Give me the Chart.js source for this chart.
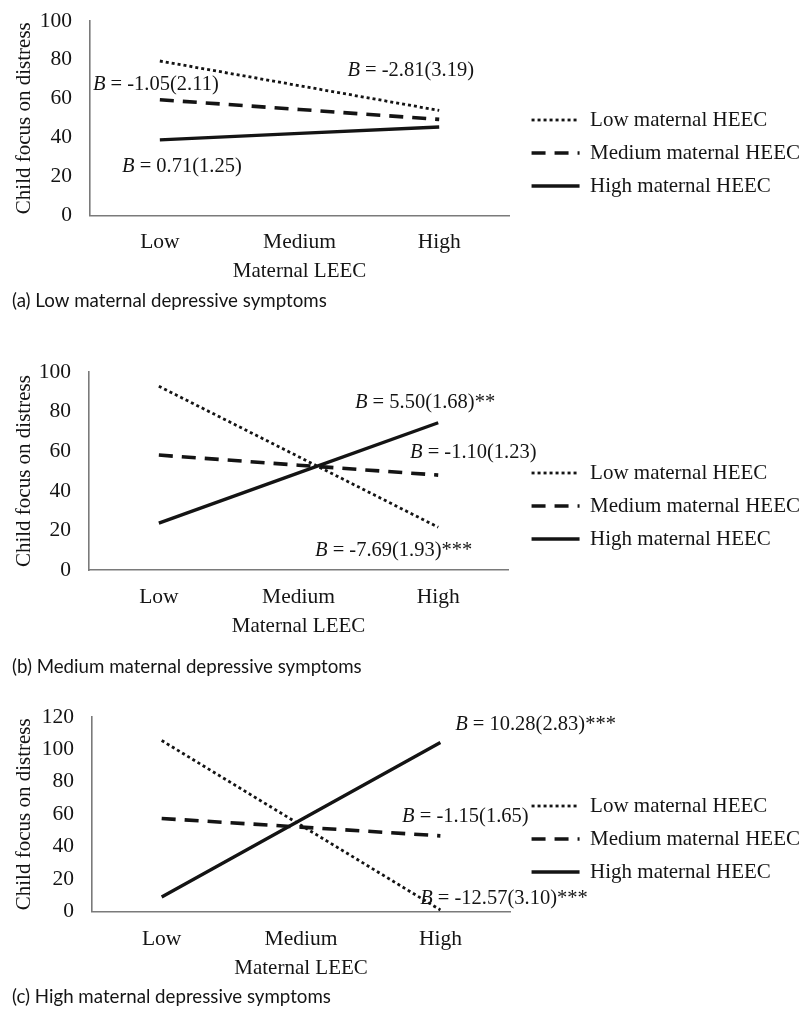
<!DOCTYPE html>
<html><head><meta charset="utf-8">
<script src="https://cdn.jsdelivr.net/npm/chart.js@4.4.1/dist/chart.umd.min.js"></script>
<style>
html,body{margin:0;padding:0;background:#fff;}
body{width:810px;height:1010px;position:relative;overflow:hidden;}
canvas{position:absolute;left:0;}
</style></head><body>
<canvas id="ca" width="810" height="324" style="top:-10px"></canvas>
<canvas id="cb" width="810" height="350" style="top:330px"></canvas>
<canvas id="cc" width="810" height="330" style="top:680px"></canvas>
<script>
// ---- data ----
const categories = ['Low', 'Medium', 'High'];
const seriesNames = ['Low maternal HEEC', 'Medium maternal HEEC', 'High maternal HEEC'];
const xTitle = 'Maternal LEEC';
const yTitle = 'Child focus on distress';
const captions = [
  '(a) Low maternal depressive symptoms',
  '(b) Medium maternal depressive symptoms',
  '(c) High maternal depressive symptoms'
];
// panel (a) low maternal depressive symptoms
const lowHEEC_a  = [79.4, 66.7, 54.0];
const medHEEC_a  = [59.5, 54.5, 49.4];
const highHEEC_a = [38.9, 42.2, 45.5];
// panel (b) medium maternal depressive symptoms
const lowHEEC_b  = [92.8, 57.3, 21.7];
const medHEEC_b  = [58.1, 53.0, 48.0];
const highHEEC_b = [23.8, 49.1, 74.4];
// panel (c) high maternal depressive symptoms
const lowHEEC_c  = [105.5, 53.2, 1.0];
const medHEEC_c  = [57.4, 52.1, 46.7];
const highHEEC_c = [9.0, 56.6, 104.3];
// y axis ranges
const yMax = [100, 100, 120];
const yStep = 20;
// simple slope labels (text after the italic B)
const slopes_a = ['= -1.05(2.11)', '= -2.81(3.19)', '= 0.71(1.25)'];
const slopes_b = ['= 5.50(1.68)**', '= -1.10(1.23)', '= -7.69(1.93)***'];
const slopes_c = ['= 10.28(2.83)***', '= -1.15(1.65)', '= -12.57(3.10)***'];

// ---- styling / layout ----
const SERIF = '"Liberation Serif", "Times New Roman", serif';
const INK = '#141414';
const AXIS = '#7a7a7a';

const slopeLabelPlugin = {
  id: 'slopeLabels',
  afterDatasetsDraw(chart, args, opts) {
    const {ctx} = chart;
    const xs = chart.scales.x, ys = chart.scales.y;
    ctx.save();
    ctx.textBaseline = 'middle';
    ctx.textAlign = 'left';
    ctx.fillStyle = INK;
    opts.texts.forEach((t, i) => {
      const [cx, cy] = opts.anchors[i];
      const px = xs.getPixelForValue(cx);
      const py = ys.getPixelForValue(cy);
      ctx.font = 'italic 20.5px ' + SERIF;
      ctx.fillText('B', px, py);
      const w = ctx.measureText('B').width;
      ctx.font = '20.5px ' + SERIF;
      ctx.fillText(' ' + t, px + w, py);
    });
    ctx.restore();
  }
};

function legendLabels(chart) {
  const items = Chart.defaults.plugins.legend.labels.generateLabels(chart);
  return items.map(it => {
    const d = chart.data.datasets[it.datasetIndex];
    return Object.assign(it, {
      lineDash: d.borderDash || [],
      lineWidth: d.borderWidth,
      strokeStyle: d.borderColor,
      lineCap: 'butt',
      pointStyle: 'line'
    });
  });
}

function makeChart(id, p) {
  const ds = [
    {label: seriesNames[0], data: p.low, borderDash: [3, 3], borderWidth: 2.8},
    {label: seriesNames[1], data: p.med, borderDash: [14, 9], borderWidth: 3.6},
    {label: seriesNames[2], data: p.high, borderWidth: 3.3}
  ].map(d => Object.assign({
    borderColor: INK, backgroundColor: INK, pointRadius: 0, pointHoverRadius: 0,
    tension: 0, fill: false, borderCapStyle: 'butt'
  }, d));
  return new Chart(document.getElementById(id), {
    type: 'line',
    data: {labels: categories, datasets: ds},
    plugins: [slopeLabelPlugin],
    options: {
      responsive: false,
      animation: false,
      events: [],
      layout: {padding: {left: 12, top: p.top, right: 0, bottom: 0}},
      scales: {
        x: {
          type: 'category', offset: true,
          grid: {display: false, drawTicks: false},
          border: {display: true, color: AXIS, width: 1.6},
          ticks: {color: INK, font: {family: SERIF, size: 21.5}, padding: p.xPad},
          title: {display: true, text: xTitle, color: INK, font: {family: SERIF, size: 21},
                  padding: {top: 0, bottom: p.xTitlePad}},
          afterFit(s) { s.height = p.xH; }
        },
        y: {
          min: 0, max: p.yMax,
          grid: {display: false, drawTicks: false},
          border: {display: true, color: AXIS, width: 1.6},
          ticks: {stepSize: yStep, color: INK, font: {family: SERIF, size: 21.5}, padding: 18},
          title: {display: true, text: yTitle, color: INK, font: {family: SERIF, size: 21},
                  padding: {top: 0, bottom: 0}},
          afterFit(s) { s.width = p.yW; }
        },
        gap: {
          type: 'linear', position: 'right', display: true,
          grid: {display: false, drawTicks: false}, border: {display: false},
          ticks: {display: false},
          afterFit(s) { s.width = p.gap; }
        }
      },
      plugins: {
        legend: {
          position: 'right', align: 'start', maxWidth: 320,
          title: {display: true, text: ' ', font: {size: 1}, padding: {top: p.legendShift - 1.2, bottom: 0}},
          labels: {usePointStyle: true, pointStyle: 'line', pointStyleWidth: 48,
                   generateLabels: legendLabels,
                   color: INK, font: {family: SERIF, size: 21}, padding: 12}
        },
        title: {
          display: true, position: 'bottom', align: 'start', text: p.caption,
          color: INK, font: {family: 'Lato', size: 18.7, weight: 'normal'},
          padding: {top: 4, bottom: 2}
        },
        tooltip: {enabled: false},
        slopeLabels: {texts: p.texts, anchors: p.anchors}
      }
    }
  });
}

makeChart('ca', {
  low: lowHEEC_a, med: medHEEC_a, high: highHEEC_a, yMax: yMax[0], caption: captions[0],
  top: 20, xH: 70, xPad: 14, xTitlePad: 1.4, yW: 78, gap: 10.5, legendShift: 87.5,
  texts: slopes_a, anchors: [[-0.479, 67.2], [1.343, 74.3], [-0.271, 24.9]]
});
makeChart('cb', {
  low: lowHEEC_b, med: medHEEC_b, high: highHEEC_b, yMax: yMax[1], caption: captions[1],
  top: 42, xH: 81.3, xPad: 14, xTitlePad: 12.4, yW: 77, gap: 11.5, legendShift: 78.5,
  texts: slopes_b, anchors: [[1.404, 84.6], [1.798, 59.5], [1.118, 9.9]]
});
makeChart('cc', {
  low: lowHEEC_c, med: medHEEC_c, high: highHEEC_c, yMax: yMax[2], caption: captions[2],
  top: 37, xH: 70, xPad: 14.5, xTitlePad: 0.4, yW: 80, gap: 9.5, legendShift: 66.5,
  texts: slopes_c, anchors: [[2.106, 115.1], [1.725, 58.8], [1.855, 8.0]]
});
</script>
</body></html>
